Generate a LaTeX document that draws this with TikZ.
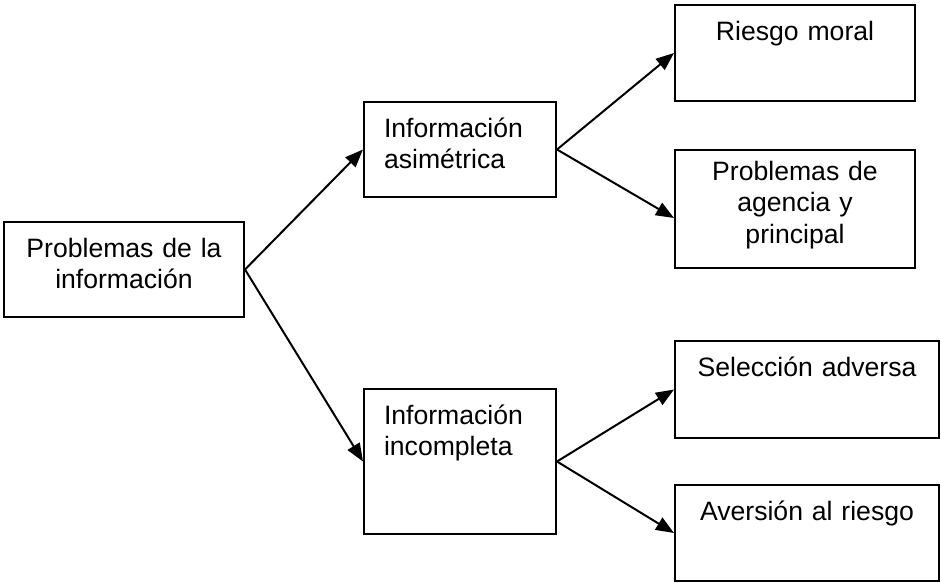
\documentclass[tikz,border=0pt]{standalone}
\usepackage{fontspec}
\setmainfont{Liberation Sans}
\usetikzlibrary{positioning,arrows.meta}

\begin{document}
\begin{tikzpicture}[
	x=1pt, y=-1pt,
	caja/.style={rectangle, draw=black, line width=2pt, fill=white,
		anchor=north west, inner xsep=10pt, inner ysep=0pt,
		text height=35pt, align=center,
		font=\fontsize{26.6}{31.5}\selectfont},
	cajaizq/.style={caja, inner xsep=20pt, align=left},
	flecha/.style={-{Triangle[length=18pt,width=14pt]}, line width=2pt}
	]
	\useasboundingbox (0,0) rectangle (941,582);
	% cajas
	\node[caja, text width=220pt, text depth=60pt] (pi) at (3,221) {Problemas de la\\información};
	\node[cajaizq, text width=152pt, text depth=60pt] (ia) at (363,101) {Información\\asimétrica};
	\node[cajaizq, text width=152pt, text depth=110pt] (ii) at (363,388) {Información\\incompleta};
	\node[caja, text width=220pt, text depth=61pt] (rm) at (674,4) {Riesgo moral};
	\node[caja, text width=220pt, text height=30pt, text depth=88pt] (pa) at (674,149) {Problemas de\\agencia y\\principal};
	\node[caja, text width=244pt, text depth=62pt] (sa) at (674,340) {Selección adversa};
	\node[caja, text width=244pt, text depth=61pt] (ar) at (674,484) {Aversión al riesgo};
	% flechas
	\draw[flecha] (pi.east) -- (ia.west);
	\draw[flecha] (pi.east) -- (ii.west);
	\draw[flecha] (ia.east) -- (rm.west);
	\draw[flecha] (ia.east) -- ([yshift=-9pt]pa.west);
	\draw[flecha] (ii.east) -- (sa.west);
	\draw[flecha] (ii.east) -- (ar.west);
\end{tikzpicture}
\end{document}
